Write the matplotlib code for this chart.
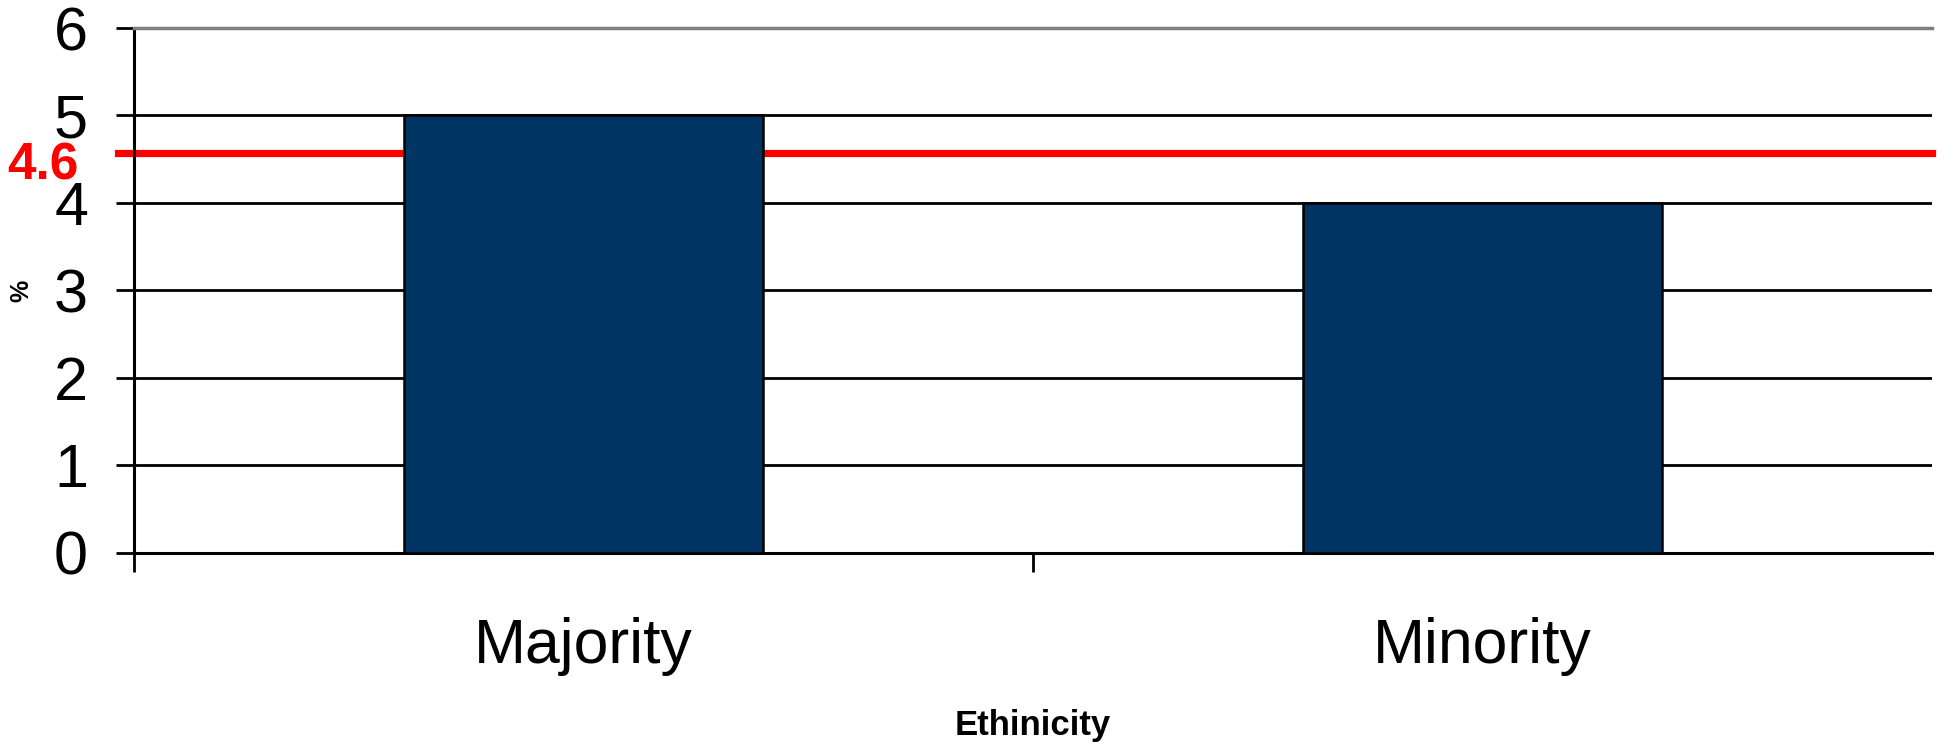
import matplotlib

matplotlib.use("Agg")
import matplotlib.pyplot as plt  # noqa: E402
import matplotlib.transforms as mtransforms  # noqa: E402
import numpy as np  # noqa: E402

# data
categories = ["Majority", "Minority"]
percent = [5.0, 4.0]
reference = 4.57
reference_label = "4.6"
y_ticks = [0, 1, 2, 3, 4, 5, 6]

BAR_COLOR = "#003462"
RED = "#FF0000"

plt.rcParams["font.family"] = ["Liberation Sans", "DejaVu Sans"]

fig = plt.figure(figsize=(19.44, 7.44), dpi=100)
ax = fig.add_axes([0.0689, 0.2571, 0.9249, 0.7052])

x = np.arange(len(categories))
ax.bar(x, percent, width=0.40, color=BAR_COLOR, edgecolor="black",
       linewidth=1.8, zorder=3)

# reference line sits behind the bars, pokes out left like a tick
ax.axhline(reference, xmin=-0.009, xmax=1.0, color=RED, linewidth=5.2,
           clip_on=False, zorder=2)
trans = mtransforms.blended_transform_factory(ax.transAxes, ax.transData)
ax.annotate(reference_label, xy=(0, reference), xycoords=trans,
            xytext=(-40, -9), textcoords="offset points",
            ha="right", va="center", color=RED, fontsize=37,
            fontweight="bold")

ax.set_xlim(-0.5, len(categories) - 0.5)
ax.set_ylim(y_ticks[0], y_ticks[-1])
ax.set_yticks(y_ticks)
ax.set_yticklabels([str(t) for t in y_ticks], fontsize=44)
ax.tick_params(axis="y", length=13, width=2, pad=20, color="black")

ax.set_xticks(x)
ax.set_xticklabels(categories, fontsize=45)
ax.set_xticks(np.arange(len(categories)) - 0.5, minor=True)
ax.tick_params(axis="x", which="major", length=0, pad=46)
ax.tick_params(axis="x", which="minor", length=13.5, width=2)

ax.yaxis.grid(True, color="black", linewidth=2, zorder=1)
ax.set_axisbelow(True)

for side in ("left", "bottom"):
    ax.spines[side].set_linewidth(2.2)
    ax.spines[side].set_color("black")
ax.spines["top"].set_color("#808080")
ax.spines["top"].set_linewidth(2.5)
ax.spines["right"].set_visible(False)

ax.set_xlabel("Ethinicity", fontsize=25, fontweight="bold", labelpad=24)
ax.set_ylabel("%", fontsize=18, fontweight="bold")
ax.yaxis.set_label_coords(-0.056, 0.5)

fig.savefig("out.png", dpi=100)
